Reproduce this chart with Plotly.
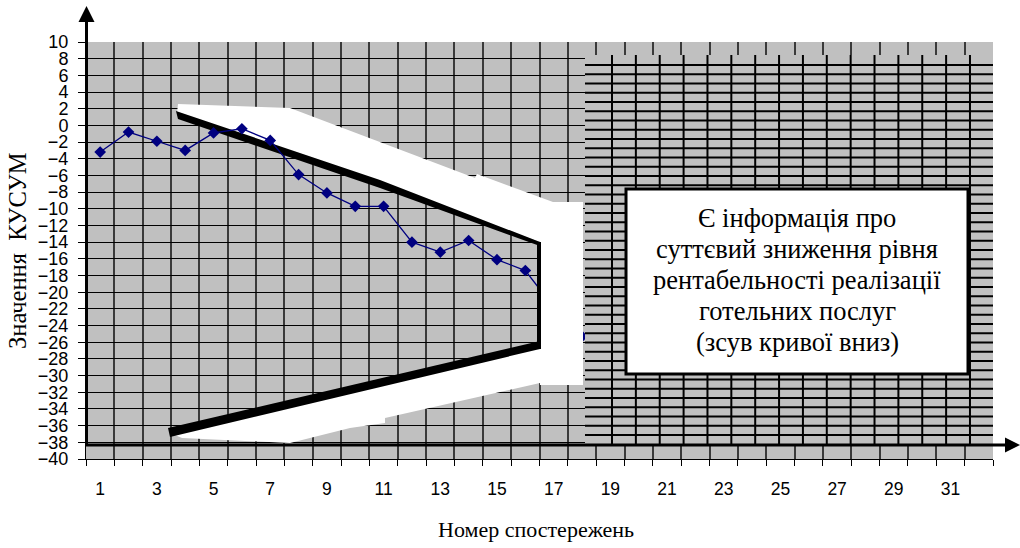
import plotly.graph_objects as go

# ---------------- data ----------------
obs = list(range(1, 19))
cusum = [-3.2, -0.8, -1.9, -3.0, -0.9, -0.4, -1.8, -5.9, -8.1, -9.7,
         -9.7, -14.0, -15.2, -13.8, -16.1, -17.4, -21.8, -25.3]
x_tick_vals = list(range(1, 33, 2))
x_tick_text = [str(v) for v in x_tick_vals]
y_tick_vals = list(range(-40, 11, 2))

box_lines = ["Є інформація про", "суттєвий зниження рівня",
             "рентабельності реалізації", "готельних послуг", "(зсув кривої вниз)"]
y_title = "Значення  КУСУМ"
x_title = "Номер спостережень"

GREY = "#C0C0C0"
NAVY = "#000080"


def path(pts):
    return "M " + " L ".join(f"{x},{y}" for x, y in pts) + " Z"


fig = go.Figure()
fig.add_trace(go.Scatter(
    x=obs, y=cusum, mode="lines+markers",
    line=dict(color=NAVY, width=1.3),
    marker=dict(symbol="diamond", size=9, color=NAVY),
    showlegend=False, hoverinfo="skip"))

shapes = []
# V-mask white "3D" chevron
chevron = [(3.746, 2.566), (7.697, 2.086), (14.224, -6.307), (14.295, -5.827),
           (16.976, -9.185), (18.035, -9.185), (18.035, -31.127), (16.517, -30.887),
           (11.049, -35.084), (11.049, -35.683), (9.814, -36.283), (7.697, -38.082),
           (3.887, -37.482), (3.464, -36.882), (16.517, -26.571), (16.517, -13.981),
           (3.711, 1.487)]
shapes.append(dict(type="path", xref="x", yref="y", path=path(chevron),
                   fillcolor="white", line=dict(width=0), layer="between"))
upper = [(3.675, 1.727), (10.873, -6.547), (16.517, -13.981), (16.517, -14.46),
         (10.873, -7.506), (3.746, 0.767)]
shapes.append(dict(type="path", xref="x", yref="y", path=path(upper),
                   fillcolor="black", line=dict(width=0), layer="between"))
lower = [(3.393, -36.283), (16.517, -25.851), (16.517, -26.811), (3.464, -37.362)]
shapes.append(dict(type="path", xref="x", yref="y", path=path(lower),
                   fillcolor="black", line=dict(width=0), layer="between"))
shapes.append(dict(type="rect", xref="x", yref="y", x0=16.517, x1=18.035,
                   y0=-9.185, y1=-31.127, fillcolor="white", line=dict(width=0),
                   layer="above"))
shapes.append(dict(type="rect", xref="x", yref="y", x0=16.412, x1=16.553,
                   y0=-13.981, y1=-26.811, fillcolor="black", line=dict(width=0),
                   layer="above"))

# pasted dense grid on the right
shapes.append(dict(type="rect", xref="x", yref="y", x0=18.105, x1=32.5,
                   y0=8.441, y1=-38.26, fillcolor=GREY, line=dict(width=0),
                   layer="above"))
n_h = 41
for i in range(n_h):
    yy = 7.242 + i * (-37.122 - 7.242) / (n_h - 1)
    shapes.append(dict(type="line", xref="x", yref="y", x0=18.105, x1=32.5,
                       y0=yy, y1=yy, line=dict(color="black", width=2),
                       layer="above"))
n_v = 16
for i in range(n_v):
    xx = 19.058 + i * (31.688 - 19.058) / (n_v - 1)
    shapes.append(dict(type="line", xref="x", yref="y", x0=xx, x1=xx,
                       y0=8.441, y1=-38.26, line=dict(color="black", width=2),
                       layer="above"))

# text box
shapes.append(dict(type="rect", xref="x", yref="y", x0=19.552, x1=31.618,
                   y0=-7.626, y1=-29.808, fillcolor="white",
                   line=dict(color="black", width=3), layer="above"))

# hand-drawn axis arrows (paper coords)
L, R, T, B = 86, 993, 42, 459


def px(xp):
    return (xp - L) / (R - L)


def py(yp):
    return (B - yp) / (B - T)


shapes.append(dict(type="line", xref="paper", yref="paper", x0=px(86.5), x1=px(86.5),
                   y0=py(445), y1=py(21), line=dict(color="black", width=3),
                   layer="above"))
shapes.append(dict(type="path", xref="paper", yref="paper",
                   path=path([(px(78.5), py(22)), (px(86.5), py(6)), (px(94.5), py(22))]),
                   fillcolor="black", line=dict(width=0), layer="above"))
shapes.append(dict(type="line", xref="paper", yref="paper", x0=px(86), x1=px(1006),
                   y0=py(445), y1=py(445), line=dict(color="black", width=3),
                   layer="above"))
shapes.append(dict(type="path", xref="paper", yref="paper",
                   path=path([(px(1005), py(437.5)), (px(1020), py(445)), (px(1005), py(452.5))]),
                   fillcolor="black", line=dict(width=0), layer="above"))

annotations = []
for i, line in enumerate(box_lines):
    annotations.append(dict(text=line, x=px(797), y=py(218 + 31 * i),
                            xref="paper", yref="paper", showarrow=False,
                            font=dict(family="Liberation Serif", size=26.5, color="black"),
                            xanchor="center", yanchor="middle"))
annotations += [
    dict(text=y_title, x=px(17), y=py(251), xref="paper", yref="paper",
         showarrow=False, textangle=-90,
         font=dict(family="Liberation Serif", size=24.5, color="black"),
         xanchor="center", yanchor="middle"),
    dict(text=x_title, x=px(536), y=py(529), xref="paper", yref="paper",
         showarrow=False, font=dict(family="Liberation Serif", size=22, color="black"),
         xanchor="center", yanchor="middle"),
]

fig.update_layout(
    width=1020, height=548,
    margin=dict(l=L, r=1020 - R, t=T, b=548 - B, pad=0),
    plot_bgcolor=GREY, paper_bgcolor="white",
    showlegend=False,
    shapes=shapes, annotations=annotations,
    xaxis=dict(range=[0.5, 32.5], tickmode="array", tickvals=x_tick_vals,
               ticktext=x_tick_text, ticks="", showgrid=False, zeroline=False,
               showline=True, linecolor="black", linewidth=1,
               tickfont=dict(family="Liberation Sans", size=17.5, color="black"),
               ticklabelstandoff=14,
               minor=dict(tickmode="linear", tick0=0.5, dtick=1, ticks="outside",
                          ticklen=6, tickcolor="black", tickwidth=1,
                          showgrid=True, gridcolor="#3a3a3a", gridwidth=1.5)),
    yaxis=dict(range=[-40, 10], tickmode="array", tickvals=y_tick_vals,
               ticks="outside", ticklen=7, tickcolor="black", tickwidth=1,
               showgrid=True, gridcolor="black", gridwidth=1.2, zeroline=False,
               showline=True, linecolor="black", linewidth=1,
               tickfont=dict(family="Liberation Sans", size=18, color="black"),
               ticklabelstandoff=6),
)

fig.write_html("out.html", config={"displayModeBar": False},
               post_script="document.body.style.margin='0px';document.body.style.padding='0px';")
